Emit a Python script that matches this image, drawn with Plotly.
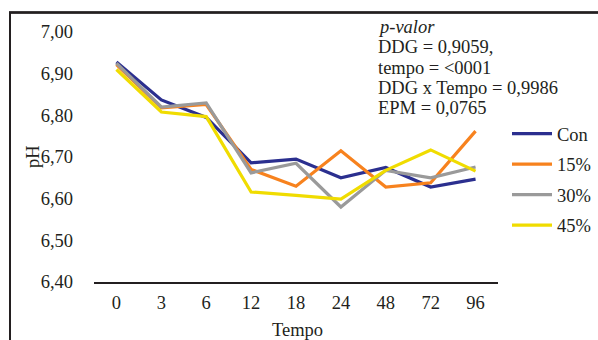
import plotly.graph_objects as go

tempo = ["0", "3", "6", "12", "18", "24", "48", "72", "96"]
con = [6.928, 6.837, 6.795, 6.686, 6.695, 6.650, 6.675, 6.628, 6.647]
p15 = [6.922, 6.818, 6.826, 6.670, 6.630, 6.715, 6.628, 6.638, 6.762]
p30 = [6.925, 6.820, 6.830, 6.662, 6.685, 6.580, 6.668, 6.650, 6.676]
p45 = [6.910, 6.808, 6.797, 6.616, 6.608, 6.599, 6.668, 6.717, 6.666]
y_ticks = [6.40, 6.50, 6.60, 6.70, 6.80, 6.90, 7.00]
y_tick_labels = ["6,40", "6,50", "6,60", "6,70", "6,80", "6,90", "7,00"]
stats_lines = ["<i>p-valor</i>", "DDG = 0,9059,", "tempo = &lt;0001",
               "DDG x Tempo = 0,9986", "EPM = 0,0765"]

series = [
    ("Con", con, "#2B2F8F"),
    ("15%", p15, "#F7821E"),
    ("30%", p30, "#9A9A9A"),
    ("45%", p45, "#F0DC00"),
]

FONT = "Liberation Serif"
TXT = "#231F20"
FS = 18.5

fig = go.Figure()
for i, (name, vals, col) in enumerate(series):
    fig.add_trace(go.Scatter(
        x=tempo, y=vals, name=name, mode="lines",
        line=dict(color=col, width=3.2),
        legendgroup=f"g{i}",
    ))

# plot area in pixels: x 94..498, y 32..282
W, H = 598, 340
L, R, T, B = 94, 100, 32, 58
pw = W - L - R
ph = H - T - B

def px(x):
    return (x - L) / pw

def py(y):
    return (H - B - y) / ph

annotations = [
    dict(text="pH", xref="paper", yref="paper", x=px(33), y=py(157),
         xanchor="center", yanchor="middle",
         textangle=-90, showarrow=False, font=dict(family=FONT, size=FS, color=TXT)),
    dict(text="Tempo", xref="paper", yref="paper", x=px(297), y=py(330),
         xanchor="center", yanchor="middle",
         showarrow=False, font=dict(family=FONT, size=FS, color=TXT)),
]
for k, line in enumerate(stats_lines):
    annotations.append(dict(
        text=line, xref="paper", yref="paper", x=px(376), y=py(27 + 20.3 * k),
        xanchor="left", yanchor="middle", align="left", showarrow=False,
        font=dict(family=FONT, size=FS, color=TXT)))

fig.update_layout(
    width=W, height=H,
    margin=dict(l=L, r=R, t=T, b=B, autoexpand=False),
    paper_bgcolor="white", plot_bgcolor="white",
    font=dict(family=FONT, size=FS, color=TXT),
    showlegend=True,
    legend=dict(
        x=px(507), y=py(115), xanchor="left", yanchor="top",
        font=dict(family=FONT, size=FS, color=TXT),
        tracegroupgap=3.5, traceorder="grouped", itemwidth=40,
        bgcolor="rgba(0,0,0,0)",
    ),
    xaxis=dict(
        type="category", showgrid=False, zeroline=False,
        range=[-0.5, 8.5], automargin=False,
        showline=True, linecolor="#231F20", linewidth=1.5,
        ticks="", ticklabelstandoff=3,
        tickfont=dict(family=FONT, size=FS, color=TXT),
    ),
    yaxis=dict(
        range=[6.40, 7.00], showgrid=False, zeroline=False,
        showline=False, ticks="", automargin=False,
        tickvals=y_ticks, ticktext=y_tick_labels,
        ticklabelstandoff=20,
        tickfont=dict(family=FONT, size=FS, color=TXT),
    ),
    shapes=[
        dict(type="rect", xref="paper", yref="paper", layer="above",
             x0=px(10), x1=px(W + 30), y0=py(12.5), y1=py(H + 30),
             line=dict(color="#231F20", width=2), fillcolor="rgba(0,0,0,0)"),
        dict(type="line", xref="paper", yref="paper", layer="above",
             x0=px(9), x1=px(W + 30), y0=py(12.5), y1=py(12.5),
             line=dict(color="#231F20", width=2.5)),
    ],
    annotations=annotations,
)

fig.write_html("out.html", config={"displayModeBar": False},
               post_script="document.body.style.margin='0';")
